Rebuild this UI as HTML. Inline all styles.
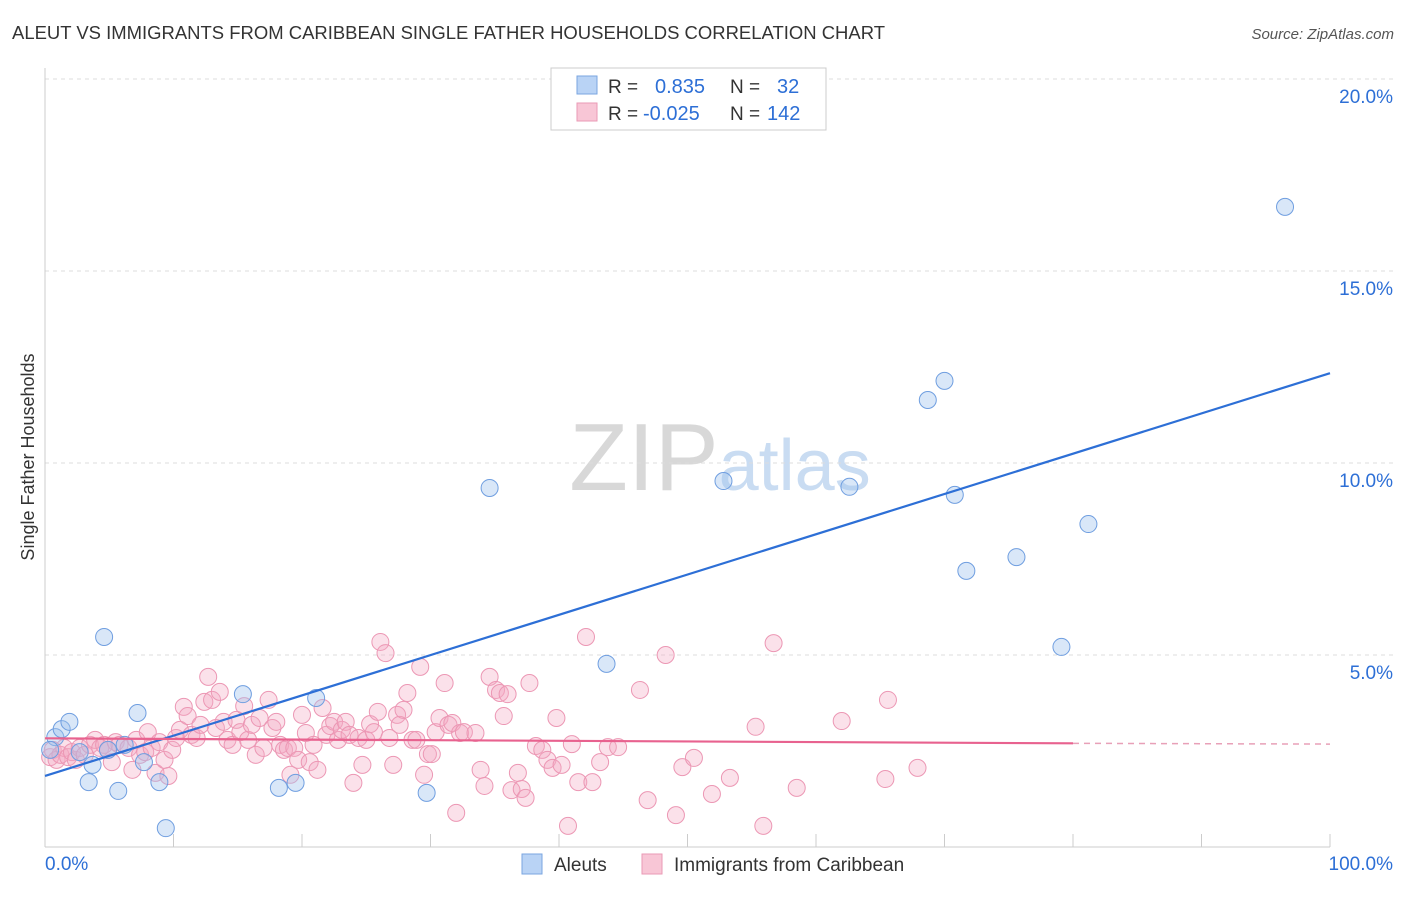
<!DOCTYPE html>
<html><head><meta charset="utf-8"><style>
body{margin:0;background:#fff;font-family:"Liberation Sans",sans-serif;}
svg text{font-family:"Liberation Sans",sans-serif;}
</style></head><body>
<svg id="chart" width="1406" height="892" xmlns="http://www.w3.org/2000/svg">
<text x="12" y="39" font-size="18" fill="#333" textLength="873" lengthAdjust="spacingAndGlyphs">ALEUT VS IMMIGRANTS FROM CARIBBEAN SINGLE FATHER HOUSEHOLDS CORRELATION CHART</text>
<text x="1394" y="39" font-size="15" fill="#555" font-style="italic" text-anchor="end">Source: ZipAtlas.com</text>
<text x="720" y="490" font-size="96" fill="#ddd" text-anchor="middle" font-family="Liberation Serif"><tspan fill="#d8d8d8">ZIP</tspan><tspan fill="#c9dcf2" font-family="Liberation Sans" font-size="72">atlas</tspan></text>
<text transform="translate(34,457) rotate(-90)" font-size="18" fill="#333" text-anchor="middle">Single Father Households</text>
<g id="grid"></g><g id="ticks"></g><g id="lines"></g><g id="pts"></g>
<g>
<rect x="551" y="68" width="275" height="62" fill="#fff" stroke="#ccc"/>
<rect x="577" y="76" width="20" height="18" fill="#b9d3f5" stroke="#7aa6e0"/>
<rect x="577" y="103" width="20" height="18" fill="#f8c6d6" stroke="#ea9ab5"/>
<text x="608" y="93" font-size="19" fill="#333">R = </text><text x="655" y="93" font-size="20" fill="#2d6fd6">0.835</text>
<text x="730" y="93" font-size="19" fill="#333">N = </text><text x="777" y="93" font-size="20" fill="#2d6fd6">32</text>
<text x="608" y="120" font-size="19" fill="#333">R = </text><text x="643" y="120" font-size="20" fill="#2d6fd6">-0.025</text>
<text x="730" y="120" font-size="19" fill="#333">N = </text><text x="767" y="120" font-size="20" fill="#2d6fd6">142</text>
</g>
<g>
<rect x="522" y="854" width="20" height="20" fill="#b9d3f5" stroke="#7aa6e0"/>
<text x="554" y="871" font-size="19" fill="#333">Aleuts</text>
<rect x="642" y="854" width="20" height="20" fill="#f8c6d6" stroke="#ea9ab5"/>
<text x="674" y="871" font-size="19" fill="#333">Immigrants from Caribbean</text>
</g>
</svg>
<script>
const blueX=[0.8,1.3,1.9,2.7,3.4,3.7,4.6,5.7,6.2,7.2,7.7,8.9,9.4,15.4,18.2,19.5,21.1,29.7,34.6,43.7,52.8,62.6,68.7,70.0,70.8,71.7,75.6,79.1,81.2,96.5,0.4,4.9];
const blueY=[2.86,3.07,3.26,2.47,1.69,2.14,5.47,1.46,2.66,3.49,2.21,1.69,0.49,3.98,1.54,1.67,3.88,1.41,9.35,4.77,9.53,9.38,11.64,12.14,9.17,7.19,7.55,5.21,8.41,16.67,2.53,2.53];
const pinkX=[0.4,0.6,0.9,1.2,1.5,1.8,2.1,2.4,2.7,3.1,3.5,3.9,4.3,4.6,4.9,5.2,5.5,5.8,6.5,6.8,7.1,7.4,7.8,8.0,8.3,8.6,8.9,9.3,9.6,9.9,10.2,10.5,10.8,11.1,11.4,11.8,12.1,12.4,12.7,13.0,13.3,13.6,13.9,14.2,14.6,14.9,15.2,15.5,15.8,16.1,16.4,16.7,17.0,17.4,17.7,18.0,18.3,18.6,18.9,19.1,19.4,19.7,20.0,20.3,20.6,20.9,21.2,21.6,21.9,22.2,22.5,22.8,23.1,23.4,23.7,24.0,24.4,24.7,25.0,25.3,25.6,25.9,26.1,26.5,26.8,27.1,27.4,27.6,27.9,28.2,28.6,28.9,29.2,29.5,29.8,30.1,30.4,30.7,31.1,31.4,31.7,32.0,32.3,32.6,33.5,33.9,34.2,34.6,35.1,35.4,35.7,36.0,36.3,36.8,37.1,37.4,37.7,38.2,38.7,39.1,39.5,39.8,40.2,40.7,41.0,41.5,42.1,42.6,43.2,43.8,44.6,46.3,46.9,48.3,49.1,49.6,50.5,51.9,53.3,55.3,55.9,56.7,58.5,62.0,65.4,65.6,67.9];
const pinkY=[2.34,2.53,2.27,2.40,2.58,2.34,2.47,2.27,2.58,2.40,2.66,2.79,2.58,2.66,2.53,2.21,2.73,2.66,2.58,2.01,2.79,2.40,2.47,2.99,2.58,1.93,2.73,2.27,1.85,2.53,2.84,3.05,3.65,3.41,2.92,2.84,3.18,3.78,4.43,3.83,3.10,4.04,3.26,2.79,2.66,3.31,2.99,3.67,2.79,3.18,2.40,3.36,2.58,3.83,3.10,3.26,2.66,2.53,2.58,1.88,2.58,2.27,3.44,2.97,2.21,2.66,2.01,3.62,2.92,3.15,3.26,2.79,3.05,3.26,2.92,1.67,2.84,2.14,2.79,3.20,2.99,3.52,5.34,5.05,2.84,2.14,3.44,3.18,3.57,4.01,2.79,2.79,4.69,1.88,2.42,2.42,2.99,3.36,4.27,3.18,3.23,0.89,2.97,2.99,2.97,2.01,1.59,4.43,4.09,4.01,3.41,3.98,1.48,1.93,1.51,1.28,4.27,2.63,2.53,2.27,2.06,3.36,2.14,0.55,2.68,1.69,5.47,1.69,2.21,2.60,2.60,4.09,1.22,5.00,0.83,2.08,2.32,1.38,1.80,3.13,0.55,5.31,1.54,3.28,1.77,3.83,2.06];
const blueTrend=[1.85,12.34];
const pinkTrend=[2.83,2.70,2.68];
const yTicks=[5,10,15,20];
const xTicks=[0,10,20,30,40,50,60,70,80,90,100];
const NS='http://www.w3.org/2000/svg';
const sx=v=>45+v*12.85, sy=v=>847-v*38.4;
function mk(tag,attrs,parent){const e=document.createElementNS(NS,tag);for(const k in attrs)e.setAttribute(k,attrs[k]);parent.appendChild(e);return e;}
const grid=document.getElementById('grid'),ticks=document.getElementById('ticks'),lines=document.getElementById('lines'),pts=document.getElementById('pts');
let ax=mk('line',{x1:45,y1:68,x2:45,y2:847,stroke:'#ccc'},ticks);


let bx=mk('line',{x1:45,y1:847,x2:1330,y2:847,stroke:'#ccc'},ticks);


yTicks.forEach(t=>{
 const g=mk('line',{x1:45,y1:sy(t),x2:1394,y2:sy(t),stroke:'#ddd','stroke-dasharray':'4,4'},grid);
 
 
 const tx=mk('text',{x:1393,y:sy(t)+24,'font-size':19,fill:'#2d6fd6','text-anchor':'end'},ticks);
 tx.textContent=t.toFixed(1)+'%';
 
 
});
xTicks.forEach(t=>{
 const l=mk('line',{x1:sx(t),y1:847,x2:sx(t),y2:834,stroke:'#ccc'},ticks);
 
 
});
[[0,'0.0%','start',45],[100,'100.0%','end',1393]].forEach(a=>{
 const tx=mk('text',{x:a[3],y:870,'font-size':19,fill:'#2d6fd6','text-anchor':a[2]},ticks);
 tx.textContent=a[1];
 
 
});
pinkX.forEach((x,i)=>{
 const c=mk('circle',{cx:sx(x),cy:sy(pinkY[i]),r:8.5,fill:'rgba(244,170,196,0.35)',stroke:'#ec97b4','stroke-width':1},pts);
 
 
});
blueX.forEach((x,i)=>{
 const c=mk('circle',{cx:sx(x),cy:sy(blueY[i]),r:8.5,fill:'rgba(160,194,238,0.4)',stroke:'#6f9ee0','stroke-width':1},pts);
 
 
});
let bl=mk('line',{x1:sx(0),y1:sy(blueTrend[0]),x2:sx(100),y2:sy(blueTrend[1]),stroke:'#2d6fd6','stroke-width':2.2},pts);


let pl=mk('line',{x1:sx(0),y1:sy(pinkTrend[0]),x2:sx(80),y2:sy(pinkTrend[1]),stroke:'#e8628f','stroke-width':2.2},pts);


let pd=mk('line',{x1:sx(80),y1:sy(pinkTrend[1]),x2:sx(100),y2:sy(pinkTrend[2]),stroke:'#e8a0b8','stroke-width':1.5,'stroke-dasharray':'6,5'},pts);


</script>
</body></html>
